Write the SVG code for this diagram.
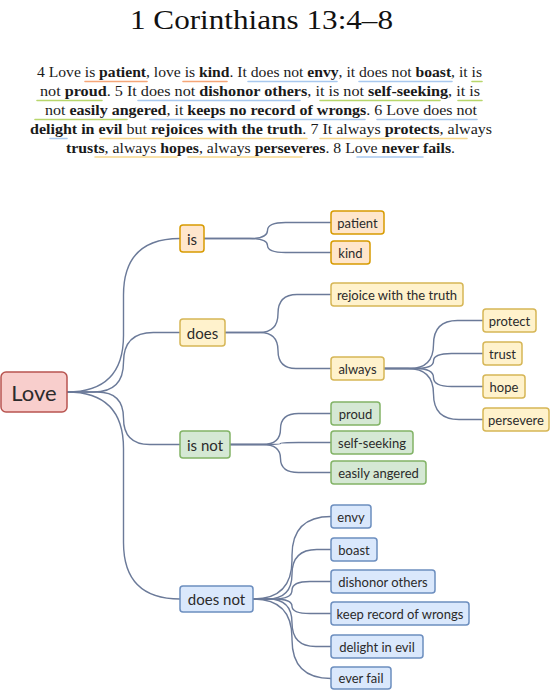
<svg xmlns="http://www.w3.org/2000/svg" width="550" height="690" viewBox="0 0 550 690">
<style>
.title{font-family:"Liberation Serif","DejaVu Serif",serif;font-size:27px;fill:#111;}
.para{font-family:"Liberation Serif","DejaVu Serif",serif;font-size:14.5px;fill:#1a1a1a;}
.b{font-weight:bold;}
.ul{stroke-width:1.6;fill:none;stroke-linecap:round;}
.uo{stroke:#f5a679;}
.ub{stroke:#a9c9ef;}
.ug{stroke:#b8d66c;}
.uy{stroke:#f7d88d;}
.lbl{font-family:Lato,"Open Sans","Liberation Sans",sans-serif;fill:#2b2b2b;text-anchor:middle;dominant-baseline:central;}
.l0{font-size:22px;}
.l1{font-size:15px;}
.l2{font-size:13px;}
.box{stroke-width:1.5;}
.red{fill:#f8cecc;stroke:#b85450;}
.org{fill:#ffe6cc;stroke:#d79b00;}
.yel{fill:#fff2cc;stroke:#d6b656;}
.grn{fill:#d5e8d4;stroke:#82b366;}
.blu{fill:#dae8fc;stroke:#6c8ebf;}
.edge{fill:none;stroke:#6b7a99;stroke-width:1.4;}
</style>

<text class="title" x="261.5" y="29" text-anchor="middle" textLength="263" lengthAdjust="spacingAndGlyphs">1 Corinthians 13:4–8</text>

<g id="verse-text">
<text class="para" x="37" y="77" textLength="445" lengthAdjust="spacingAndGlyphs">4 Love is <tspan class="b">patient</tspan>, love is <tspan class="b">kind</tspan>. It does not <tspan class="b">envy</tspan>, it does not <tspan class="b">boast</tspan>, it is</text>
<text class="para" x="40" y="96" textLength="440" lengthAdjust="spacingAndGlyphs">not <tspan class="b">proud</tspan>. 5 It does not <tspan class="b">dishonor others</tspan>, it is not <tspan class="b">self-seeking</tspan>, it is</text>
<text class="para" x="45" y="115" textLength="432" lengthAdjust="spacingAndGlyphs">not <tspan class="b">easily angered</tspan>, it <tspan class="b">keeps no record of wrongs</tspan>. 6 Love does not</text>
<text class="para" x="30" y="134" textLength="462" lengthAdjust="spacingAndGlyphs"><tspan class="b">delight in evil</tspan> but <tspan class="b">rejoices with the truth</tspan>. 7 It always <tspan class="b">protects</tspan>, always</text>
<text class="para" x="66" y="153" textLength="389" lengthAdjust="spacingAndGlyphs"><tspan class="b">trusts</tspan>, always <tspan class="b">hopes</tspan>, always <tspan class="b">perseveres</tspan>. 8 Love <tspan class="b">never fails</tspan>.</text>
<path class="ul uo" d="M85,81.5H147M183,81.5H227"/>
<path class="ul ub" d="M248,81.5H337M359,81.5H452"/>
<path class="ul ug" d="M472,81.5H482"/>
<path class="ul ug" d="M37,100.5H102M320,100.5H440M458,100.5H482"/>
<path class="ul ub" d="M138,100.5H300"/>
<path class="ul ug" d="M35,119.5H127"/>
<path class="ul ub" d="M150,119.5H365M377,119.5H477"/>
<path class="ul ub" d="M50,138.5H67"/>
<path class="ul uy" d="M100,138.5H307M320,138.5H467"/>
<path class="ul uy" d="M95,157H177M188,157H302"/>
<path class="ul ub" d="M357,157H423"/>
</g>

<g id="connectors">
<path class="edge" d="M67,392 Q123.5,392 123.5,335.5 L123.5,295 Q123.5,238.5 180,238.5"/>
<path class="edge" d="M67,392 L93.75,392 Q123.5,392 123.5,362.25 Q123.5,332.5 153.25,332.5 L180,332.5"/>
<path class="edge" d="M67,392 L97.25,392 Q123.5,392 123.5,418.25 Q123.5,444.5 149.75,444.5 L180,444.5"/>
<path class="edge" d="M67,392 Q123.5,392 123.5,448.5 L123.5,542.5 Q123.5,599 180,599"/>
<path class="edge" d="M204,238.5 L249.5,238.5 Q267.5,238.5 267.5,230.5 Q267.5,222.5 285.5,222.5 L331,222.5"/>
<path class="edge" d="M204,238.5 L249.5,238.5 Q267.5,238.5 267.5,245.5 Q267.5,252.5 285.5,252.5 L331,252.5"/>
<path class="edge" d="M225,332.5 L259,332.5 Q278,332.5 278,313.5 Q278,294.5 297,294.5 L331,294.5"/>
<path class="edge" d="M225,332.5 L260,332.5 Q278,332.5 278,350.5 Q278,368.5 296,368.5 L331,368.5"/>
<path class="edge" d="M384,368.5 L409.5,368.5 Q433.5,368.5 433.5,344.5 Q433.5,320.5 457.5,320.5 L483,320.5"/>
<path class="edge" d="M384,368.5 L415.5,368.5 Q433.5,368.5 433.5,361 Q433.5,353.5 451.5,353.5 L483,353.5"/>
<path class="edge" d="M384,368.5 L415.5,368.5 Q433.5,368.5 433.5,377.5 Q433.5,386.5 451.5,386.5 L483,386.5"/>
<path class="edge" d="M384,368.5 L408,368.5 Q433.5,368.5 433.5,394 Q433.5,419.5 459,419.5 L483,419.5"/>
<path class="edge" d="M230,444.5 L262.5,444.5 Q280.5,444.5 280.5,429 Q280.5,413.5 298.5,413.5 L331,413.5"/>
<path class="edge" d="M230,444.5 L262.5,444.5 Q280.5,444.5 280.5,443.5 Q280.5,442.5 298.5,442.5 L331,442.5"/>
<path class="edge" d="M230,444.5 L262.5,444.5 Q280.5,444.5 280.5,458.5 Q280.5,472.5 298.5,472.5 L331,472.5"/>
<path class="edge" d="M253,599 Q292,599 292,560 L292,555.5 Q292,516.5 331,516.5"/>
<path class="edge" d="M253,599 L267.25,599 Q292,599 292,574.25 Q292,549.5 316.75,549.5 L331,549.5"/>
<path class="edge" d="M253,599 L274,599 Q292,599 292,590.25 Q292,581.5 310,581.5 L331,581.5"/>
<path class="edge" d="M253,599 L274,599 Q292,599 292,606.25 Q292,613.5 310,613.5 L331,613.5"/>
<path class="edge" d="M253,599 L268.25,599 Q292,599 292,622.75 Q292,646.5 315.75,646.5 L331,646.5"/>
<path class="edge" d="M253,599 Q292,599 292,638 L292,639.5 Q292,678.5 331,678.5"/>
</g>

<g id="love"><rect class="box red" x="1" y="372" width="66" height="40" rx="5"/><text class="lbl l0" x="34" y="392">Love</text></g>

<g id="is"><rect class="box org" x="180" y="225" width="24" height="27" rx="3"/><text class="lbl l1" x="192" y="238.5">is</text></g>
<g id="does"><rect class="box yel" x="180" y="319" width="45" height="27" rx="3"/><text class="lbl l1" x="202.5" y="332.5">does</text></g>
<g id="is-not"><rect class="box grn" x="180" y="431" width="50" height="27" rx="3"/><text class="lbl l1" x="205" y="444.5">is not</text></g>
<g id="does-not"><rect class="box blu" x="180" y="586" width="73" height="26" rx="3"/><text class="lbl l1" x="216.5" y="599">does not</text></g>

<g id="patient"><rect class="box org" x="331" y="211" width="53" height="23" rx="3"/><text class="lbl l2" x="357.5" y="222.5">patient</text></g>
<g id="kind"><rect class="box org" x="331" y="241" width="39" height="23" rx="3"/><text class="lbl l2" x="350.5" y="252.5">kind</text></g>

<g id="rejoice"><rect class="box yel" x="331" y="283" width="132" height="23" rx="3"/><text class="lbl l2" x="397" y="294.5">rejoice with the truth</text></g>
<g id="always"><rect class="box yel" x="331" y="357" width="53" height="23" rx="3"/><text class="lbl l2" x="357.5" y="368.5">always</text></g>
<g id="protect"><rect class="box yel" x="483" y="309" width="53" height="23" rx="3"/><text class="lbl l2" x="509.5" y="320.5">protect</text></g>
<g id="trust"><rect class="box yel" x="483" y="342" width="39" height="23" rx="3"/><text class="lbl l2" x="502.5" y="353.5">trust</text></g>
<g id="hope"><rect class="box yel" x="483" y="375" width="42" height="23" rx="3"/><text class="lbl l2" x="504" y="386.5">hope</text></g>
<g id="persevere"><rect class="box yel" x="483" y="408" width="66" height="23" rx="3"/><text class="lbl l2" x="516" y="419.5">persevere</text></g>

<g id="proud"><rect class="box grn" x="331" y="402" width="49" height="23" rx="3"/><text class="lbl l2" x="355.5" y="413.5">proud</text></g>
<g id="self-seeking"><rect class="box grn" x="331" y="431" width="82" height="23" rx="3"/><text class="lbl l2" x="372" y="442.5">self-seeking</text></g>
<g id="easily-angered"><rect class="box grn" x="331" y="461" width="95" height="23" rx="3"/><text class="lbl l2" x="378.5" y="472.5">easily angered</text></g>

<g id="envy"><rect class="box blu" x="331" y="505" width="40" height="23" rx="3"/><text class="lbl l2" x="351" y="516.5">envy</text></g>
<g id="boast"><rect class="box blu" x="331" y="538" width="46" height="23" rx="3"/><text class="lbl l2" x="354" y="549.5">boast</text></g>
<g id="dishonor-others"><rect class="box blu" x="331" y="570" width="104" height="23" rx="3"/><text class="lbl l2" x="383" y="581.5">dishonor others</text></g>
<g id="keep-record"><rect class="box blu" x="331" y="602" width="138" height="23" rx="3"/><text class="lbl l2" x="400" y="613.5">keep record of wrongs</text></g>
<g id="delight-in-evil"><rect class="box blu" x="331" y="635" width="92" height="23" rx="3"/><text class="lbl l2" x="377" y="646.5">delight in evil</text></g>
<g id="ever-fail"><rect class="box blu" x="331" y="667" width="60" height="22" rx="3"/><text class="lbl l2" x="361" y="678">ever fail</text></g>
</svg>
